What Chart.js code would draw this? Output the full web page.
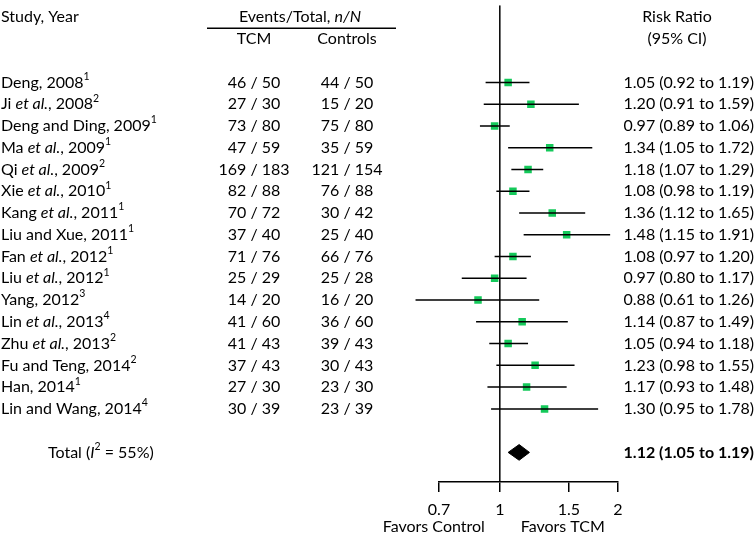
<!DOCTYPE html>
<html>
<head>
<meta charset="utf-8">
<script src="https://cdn.jsdelivr.net/npm/chart.js@4/dist/chart.umd.min.js"></script>
<style>
  body { margin: 0; background: #fff; }
</style>
</head>
<body>
<canvas id="forest" width="756" height="541"></canvas>
<script>
// study labels
var authors = ['Deng', 'Ji', 'Deng and Ding', 'Ma', 'Qi', 'Xie', 'Kang', 'Liu and Xue', 'Fan', 'Liu', 'Yang', 'Lin', 'Zhu', 'Fu and Teng', 'Han', 'Lin and Wang'];
var etAl = [0, 1, 0, 1, 1, 1, 1, 0, 1, 1, 0, 1, 1, 0, 0, 0];
var years = [2008, 2008, 2009, 2009, 2009, 2010, 2011, 2011, 2012, 2012, 2012, 2013, 2013, 2014, 2014, 2014];
var refs = [1, 2, 1, 1, 2, 1, 1, 1, 1, 1, 3, 4, 2, 2, 1, 4];

// events / totals
var tcmEvents = [46, 27, 73, 47, 169, 82, 70, 37, 71, 25, 14, 41, 41, 37, 27, 30];
var tcmTotal = [50, 30, 80, 59, 183, 88, 72, 40, 76, 29, 20, 60, 43, 43, 30, 39];
var ctlEvents = [44, 15, 75, 35, 121, 76, 30, 25, 66, 25, 16, 36, 39, 30, 23, 23];
var ctlTotal = [50, 20, 80, 59, 154, 88, 42, 40, 76, 28, 20, 60, 43, 43, 30, 39];

// risk ratios and 95% CI
var rr = [1.05, 1.20, 0.97, 1.34, 1.18, 1.08, 1.36, 1.48, 1.08, 0.97, 0.88, 1.14, 1.05, 1.23, 1.17, 1.30];
var ciLow = [0.92, 0.91, 0.89, 1.05, 1.07, 0.98, 1.12, 1.15, 0.97, 0.80, 0.61, 0.87, 0.94, 0.98, 0.93, 0.95];
var ciHigh = [1.19, 1.59, 1.06, 1.72, 1.29, 1.19, 1.65, 1.91, 1.20, 1.17, 1.26, 1.49, 1.18, 1.55, 1.48, 1.78];

// pooled estimate
var totalRR = 1.12, totalLow = 1.05, totalHigh = 1.19, iSquared = 55;

// x axis ticks
var tickValues = [0.7, 1, 1.5, 2];
var tickLabels = ['0.7', '1', '1.5', '2'];

var FONT = 'Lato, sans-serif';
var totalRow = authors.length + 1;
var yMin = -3.545, yMax = 18.36;

function fmt(v) { return v.toFixed(2); }

// CI segments in one line with gaps
var ciData = [];
rr.forEach(function (v, i) {
  ciData.push({x: ciLow[i], y: i}, {x: ciHigh[i], y: i}, {x: 1, y: null});
});

var diamondH = 0.36;
var diamondData = [
  {x: totalLow, y: totalRow},
  {x: totalRR, y: totalRow - diamondH},
  {x: totalHigh, y: totalRow},
  {x: totalRR, y: totalRow + diamondH},
  {x: totalLow, y: totalRow}
];

function drawRuns(ctx, runs, x, y, align) {
  var w = 0;
  runs.forEach(function (r) { ctx.font = r.font; w += ctx.measureText(r.text).width; });
  var cx = align === 'center' ? x - w / 2 : (align === 'right' ? x - w : x);
  ctx.textAlign = 'left';
  runs.forEach(function (r) {
    ctx.font = r.font;
    ctx.fillText(r.text, cx, y + (r.dy || 0));
    cx += ctx.measureText(r.text).width;
  });
}

var norm = '16px ' + FONT, ital = 'italic 16px ' + FONT, sup = '10.5px ' + FONT, bold = 'bold 16px ' + FONT;

var tablePlugin = {
  id: 'table',
  afterDraw: function (chart) {
    var ctx = chart.ctx, ys = chart.scales.y, xs = chart.scales.x;
    ctx.save();
    ctx.fillStyle = '#000';
    ctx.textBaseline = 'middle';
    var h1 = ys.getPixelForValue(-3), h2 = ys.getPixelForValue(-2);

    drawRuns(ctx, [{text: 'Study, Year', font: norm}], 1, h1, 'left');
    drawRuns(ctx, [{text: 'Events/Total, ', font: norm}, {text: 'n/N', font: ital}], 300, h1, 'center');
    drawRuns(ctx, [{text: 'TCM', font: norm}], 254, h2, 'center');
    drawRuns(ctx, [{text: 'Controls', font: norm}], 347, h2, 'center');
    drawRuns(ctx, [{text: 'Risk Ratio', font: norm}], 677, h1, 'center');
    drawRuns(ctx, [{text: '(95% CI)', font: norm}], 677, h2, 'center');

    ctx.strokeStyle = '#000';
    ctx.lineWidth = 1.5;
    ctx.beginPath();
    ctx.moveTo(207, h1 + 11);
    ctx.lineTo(396, h1 + 11);
    ctx.stroke();

    authors.forEach(function (a, i) {
      var y = ys.getPixelForValue(i);
      var runs = etAl[i]
        ? [{text: a + ' ', font: norm}, {text: 'et al.', font: ital}, {text: ', ' + years[i], font: norm}]
        : [{text: a + ', ' + years[i], font: norm}];
      runs.push({text: String(refs[i]), font: sup, dy: -6});
      drawRuns(ctx, runs, 1, y, 'left');
      drawRuns(ctx, [{text: tcmEvents[i] + ' / ' + tcmTotal[i], font: norm}], 254, y, 'center');
      drawRuns(ctx, [{text: ctlEvents[i] + ' / ' + ctlTotal[i], font: norm}], 347, y, 'center');
      drawRuns(ctx, [{text: fmt(rr[i]) + ' (' + fmt(ciLow[i]) + ' to ' + fmt(ciHigh[i]) + ')', font: norm}], 754, y, 'right');
    });

    var ty = ys.getPixelForValue(totalRow);
    drawRuns(ctx, [{text: 'Total (', font: norm}, {text: 'I', font: ital}, {text: '2', font: sup, dy: -6},
      {text: ' = ' + iSquared + '%)', font: norm}], 48, ty, 'left');
    drawRuns(ctx, [{text: fmt(totalRR) + ' (' + fmt(totalLow) + ' to ' + fmt(totalHigh) + ')', font: bold}], 754, ty, 'right');

    var one = xs.getPixelForValue(1);
    drawRuns(ctx, [{text: 'Favors Control', font: norm}], one - 66, 527, 'center');
    drawRuns(ctx, [{text: 'Favors TCM', font: norm}], one + 63, 527, 'center');
    ctx.restore();
  }
};

new Chart(document.getElementById('forest'), {
  type: 'scatter',
  data: {
    datasets: [
      {
        type: 'line',
        data: ciData,
        borderColor: '#000',
        borderWidth: 1.5,
        pointRadius: 0,
        spanGaps: false,
        clip: false
      },
      {
        type: 'line',
        data: [{x: 1, y: yMin}, {x: 1, y: yMax}],
        borderColor: '#000',
        borderWidth: 1.5,
        pointRadius: 0
      },
      {
        data: rr.map(function (v, i) { return {x: v, y: i}; }),
        pointStyle: 'rect',
        pointRadius: 5.3,
        backgroundColor: '#14c95a',
        borderColor: '#14c95a',
        borderWidth: 0
      },
      {
        type: 'line',
        data: diamondData,
        borderColor: '#000',
        backgroundColor: '#000',
        borderWidth: 1,
        pointRadius: 0,
        fill: 'shape'
      }
    ]
  },
  options: {
    responsive: false,
    animation: false,
    layout: {padding: {left: 439, right: 138, top: 0, bottom: 0}},
    plugins: {legend: {display: false}, tooltip: {enabled: false}},
    scales: {
      x: {
        type: 'logarithmic',
        min: 0.7,
        max: 2,
        afterFit: function (scale) { scale.height = 59; },
        afterBuildTicks: function (scale) {
          scale.ticks = tickValues.map(function (v) { return {value: v}; });
        },
        grid: {drawOnChartArea: false, drawTicks: true, tickLength: 10, color: '#000', lineWidth: 1.5},
        border: {display: true, color: '#000', width: 1.5},
        ticks: {
          autoSkip: false,
          maxRotation: 0,
          padding: 8,
          color: '#000',
          font: {family: FONT, size: 16},
          callback: function (v, i) { return tickLabels[i]; }
        }
      },
      y: {
        type: 'linear',
        display: false,
        reverse: true,
        min: yMin,
        max: yMax
      }
    }
  },
  plugins: [tablePlugin]
});
</script>
</body>
</html>
